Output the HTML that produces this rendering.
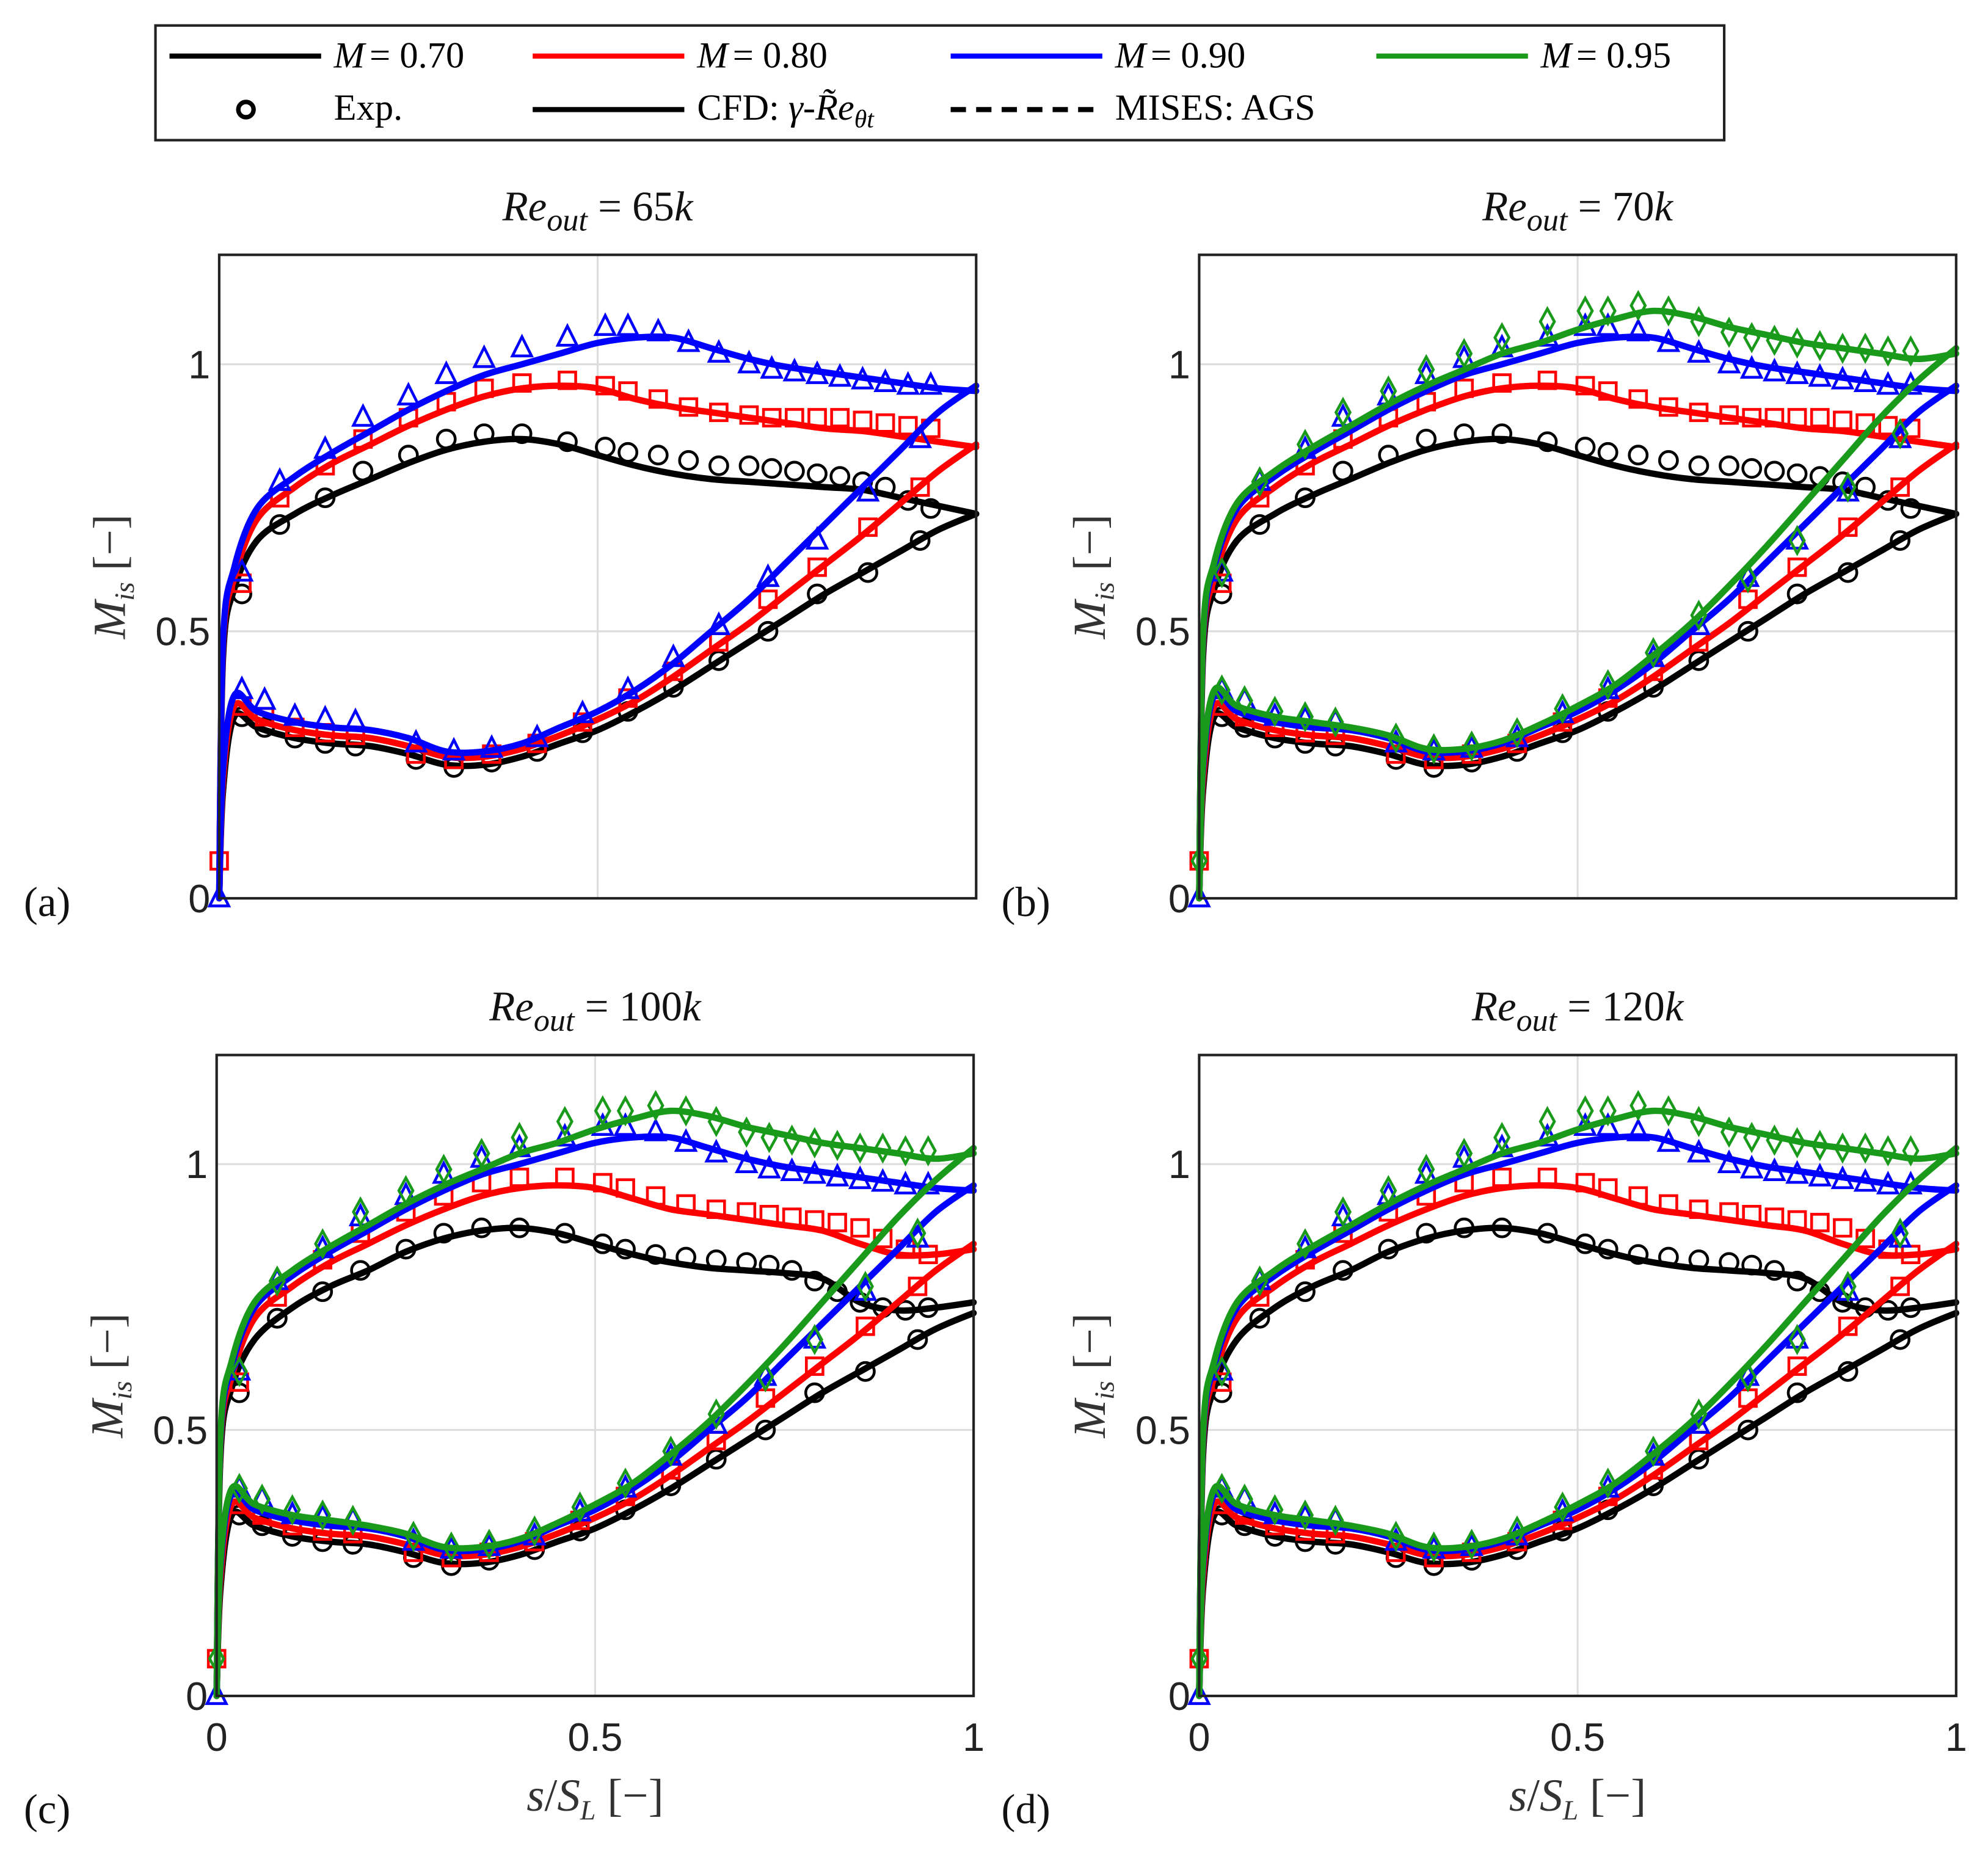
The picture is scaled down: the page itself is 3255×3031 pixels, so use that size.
<!DOCTYPE html>
<html><head><meta charset="utf-8"><style>
html,body{margin:0;padding:0;background:#fff}
svg{display:block}
</style></head><body>
<svg id="fig" width="3255" height="3031" viewBox="0 0 1560 1452.7" preserveAspectRatio="none" xmlns="http://www.w3.org/2000/svg">
<rect x="0" y="0" width="1560" height="1453" fill="#fff"/>
<g font-family="Liberation Serif, serif" font-size="29">
<rect x="122" y="20" width="1231" height="90" fill="#fff" stroke="#222" stroke-width="2"/>
<g><line x1="133" y1="44" x2="252" y2="44" stroke="#000" stroke-width="4"/><text x="262" y="53" font-style="italic">M</text><text x="290" y="53">= 0.70</text></g>
<g><line x1="418" y1="44" x2="537" y2="44" stroke="#f00" stroke-width="4"/><text x="547" y="53" font-style="italic">M</text><text x="575" y="53">= 0.80</text></g>
<g><line x1="746" y1="44" x2="865" y2="44" stroke="#00f" stroke-width="4"/><text x="875" y="53" font-style="italic">M</text><text x="903" y="53">= 0.90</text></g>
<g><line x1="1080" y1="44" x2="1199" y2="44" stroke="#1a9a1a" stroke-width="4"/><text x="1209" y="53" font-style="italic">M</text><text x="1237" y="53">= 0.95</text></g>
<g><circle cx="193" cy="86" r="6" fill="none" stroke="#000" stroke-width="3.5"/><text x="262" y="94">Exp.</text></g>
<g><line x1="418" y1="86" x2="537" y2="86" stroke="#000" stroke-width="4"/><text x="547" y="94">CFD: <tspan font-style="italic">γ-R̃e</tspan><tspan font-style="italic" font-size="20" dy="6">θt</tspan></text></g>
<g><line x1="746" y1="86" x2="865" y2="86" stroke="#000" stroke-width="4" stroke-dasharray="12,8"/><text x="875" y="94">MISES: AGS</text></g>
</g>
</svg>
<script>
// ---- data ----
const xsCFD=[0,0.005,0.02,0.05,0.1,0.15,0.2,0.25,0.3,0.35,0.4,0.45,0.5,0.55,0.6,0.65,0.7,0.75,0.8,0.85,0.9,0.95,1];
const cfdSucBlackLo=[0,0.45,0.58,0.67,0.72,0.755,0.785,0.815,0.84,0.855,0.86,0.85,0.83,0.81,0.795,0.785,0.78,0.775,0.77,0.765,0.75,0.735,0.72];
const cfdSucRedLo=[0,0.47,0.60,0.71,0.77,0.815,0.85,0.885,0.915,0.94,0.955,0.96,0.955,0.935,0.92,0.91,0.90,0.89,0.88,0.875,0.865,0.855,0.845];
const cfdSucBlackHi=[0,0.45,0.58,0.67,0.73,0.77,0.80,0.835,0.86,0.875,0.88,0.87,0.85,0.83,0.815,0.805,0.80,0.795,0.785,0.74,0.725,0.73,0.74];
const cfdSucRedHi=[0,0.47,0.60,0.71,0.77,0.815,0.85,0.885,0.915,0.94,0.955,0.96,0.955,0.935,0.915,0.905,0.895,0.885,0.875,0.85,0.83,0.83,0.84];
const cfdSucBlue=[0,0.48,0.62,0.73,0.79,0.835,0.875,0.915,0.95,0.98,1.0,1.02,1.04,1.05,1.05,1.03,1.01,0.995,0.985,0.975,0.965,0.955,0.95];
const cfdSucGreen=[0,0.49,0.63,0.74,0.80,0.845,0.885,0.925,0.96,0.99,1.02,1.04,1.065,1.085,1.10,1.09,1.07,1.055,1.04,1.03,1.02,1.01,1.02];
const cfdPreBlack=[0,0.2,0.34,0.32,0.30,0.29,0.285,0.27,0.25,0.25,0.265,0.29,0.315,0.35,0.39,0.435,0.48,0.525,0.57,0.61,0.65,0.69,0.72];
const cfdPreRed=[0,0.22,0.36,0.335,0.315,0.305,0.30,0.285,0.265,0.265,0.28,0.305,0.335,0.37,0.415,0.465,0.515,0.57,0.625,0.68,0.74,0.80,0.85];
const cfdPreBlue=[0,0.24,0.38,0.35,0.33,0.32,0.315,0.30,0.275,0.275,0.29,0.32,0.35,0.39,0.44,0.50,0.56,0.63,0.70,0.77,0.84,0.91,0.96];
const cfdPreGreen=[0,0.25,0.39,0.36,0.34,0.33,0.32,0.305,0.28,0.28,0.295,0.325,0.36,0.40,0.455,0.515,0.585,0.66,0.74,0.82,0.90,0.97,1.03];
const xsExpSuc=[0.03,0.08,0.14,0.19,0.25,0.30,0.35,0.40,0.46,0.51,0.54,0.58,0.62,0.66,0.70,0.73,0.76,0.79,0.82,0.85,0.88,0.91,0.94];
const expSucBlackLo=[0.57,0.70,0.75,0.80,0.83,0.86,0.87,0.87,0.855,0.845,0.835,0.83,0.82,0.81,0.81,0.805,0.80,0.795,0.79,0.78,0.77,0.745,0.73];
const expSucRedLo=[0.59,0.75,0.81,0.86,0.90,0.93,0.955,0.965,0.97,0.96,0.95,0.935,0.92,0.91,0.905,0.90,0.90,0.90,0.90,0.895,0.89,0.885,0.88];
const expSucBlackHi=[0.57,0.71,0.76,0.80,0.84,0.87,0.88,0.88,0.87,0.85,0.84,0.83,0.825,0.82,0.815,0.81,0.80,0.78,0.76,0.74,0.73,0.725,0.73];
const expSucRedHi=[0.59,0.75,0.82,0.87,0.91,0.94,0.965,0.975,0.975,0.965,0.955,0.94,0.925,0.915,0.91,0.905,0.90,0.895,0.89,0.88,0.86,0.84,0.83];
const expSucBlue=[0.61,0.78,0.84,0.90,0.94,0.98,1.01,1.03,1.05,1.07,1.07,1.06,1.04,1.02,1.0,0.99,0.985,0.98,0.975,0.97,0.965,0.96,0.96];
const expSucGreen=[0.61,0.78,0.85,0.91,0.95,0.99,1.02,1.05,1.08,1.10,1.10,1.11,1.10,1.08,1.06,1.05,1.045,1.04,1.035,1.03,1.03,1.025,1.025];
const xsExpPre=[0.03,0.06,0.10,0.14,0.18,0.26,0.31,0.36,0.42,0.48,0.54,0.60,0.66,0.725,0.79,0.857,0.926];
const expPreBlack=[0.34,0.32,0.30,0.29,0.285,0.26,0.245,0.255,0.275,0.31,0.35,0.395,0.445,0.50,0.57,0.61,0.67];
const expPreRed=[0.36,0.34,0.32,0.31,0.305,0.27,0.26,0.27,0.29,0.33,0.375,0.425,0.48,0.56,0.62,0.695,0.77];
const expPreBlue=[0.39,0.37,0.34,0.335,0.33,0.29,0.275,0.28,0.30,0.345,0.39,0.45,0.51,0.60,0.67,0.76,0.86];
const expPreGreen=[0.39,0.37,0.35,0.34,0.33,0.30,0.28,0.285,0.31,0.355,0.40,0.46,0.53,0.60,0.67,0.77,0.87];
const expLE=[0.0,0.07,0.0,0.07];
const panelTitles=["65k","70k","100k","120k"];
const panelLetters=["(a)","(b)","(c)","(d)"];
const yTicks=[0,0.5,1];
const xTickLabels=["0","0.5","1"];
const xTicks=[0,0.5,1];

const NS="http://www.w3.org/2000/svg";
const svg=document.getElementById('fig');
function mk(t,a,p){const e=document.createElementNS(NS,t);for(const k in a)e.setAttribute(k,a[k]);(p||svg).appendChild(e);return e;}
function smooth(P){let d='M'+P[0][0].toFixed(1)+','+P[0][1].toFixed(1);
 for(let i=0;i<P.length-1;i++){const p0=P[Math.max(0,i-1)],p1=P[i],p2=P[i+1],p3=P[Math.min(P.length-1,i+2)];
  const c1=[p1[0]+(p2[0]-p0[0])/6,p1[1]+(p2[1]-p0[1])/6],c2=[p2[0]-(p3[0]-p1[0])/6,p2[1]-(p3[1]-p1[1])/6];
  d+='C'+c1.map(v=>v.toFixed(1)).join(',')+' '+c2.map(v=>v.toFixed(1)).join(',')+' '+p2[0].toFixed(1)+','+p2[1].toFixed(1);}
 return d;}
const colors={black:"#000",red:"#f00",blue:"#00f",green:"#1a9a1a"};
const panels=[
 {x0:172,y0:200,x1:766,y1:705,hi:false,green:false},
 {x0:941,y0:200,x1:1535,y1:705,hi:false,green:true},
 {x0:170,y0:828,x1:764,y1:1331,hi:true,green:true},
 {x0:941,y0:828,x1:1535,y1:1331,hi:true,green:true}];
const YMAX=1.205;
panels.forEach((P,i)=>{
 const g=mk('g',{});
 
 
 const X=v=>P.x0+v*(P.x1-P.x0);
 const Y=v=>P.y1-v/YMAX*(P.y1-P.y0);
 xTicks.slice(1,2).forEach(t=>{const l=mk('line',{x1:X(t),x2:X(t),y1:P.y0,y2:P.y1,stroke:"#ddd","stroke-width":1.5},g);});
 yTicks.slice(1).forEach(t=>{const l=mk('line',{x1:P.x0,x2:P.x1,y1:Y(t),y2:Y(t),stroke:"#ddd","stroke-width":1.5},g);});
 yTicks.forEach(t=>{const tx=mk('text',{x:P.x0-7,y:Y(t)+11,"text-anchor":"end","font-family":"Liberation Sans, sans-serif","font-size":31,fill:"#222"},g);tx.textContent=String(t);});
 if(i>=2){xTicks.forEach((t,k)=>{const tx=mk('text',{x:X(t),y:P.y1+43,"text-anchor":"middle","font-family":"Liberation Sans, sans-serif","font-size":31,fill:"#222"},g);tx.textContent=xTickLabels[k];});
  const xl=mk('text',{x:(P.x0+P.x1)/2,y:P.y1+90,"text-anchor":"middle","font-family":"Liberation Serif, serif","font-size":36,fill:"#333"},g);
  xl.innerHTML='<tspan font-style="italic">s</tspan>/<tspan font-style="italic">S</tspan><tspan font-size="22" dy="7" font-style="italic">L</tspan><tspan dy="-7"> [−]</tspan>';
  }
 const cy=(P.y0+P.y1)/2;
 const yl=mk('text',{x:0,y:0,transform:`translate(${P.x0-74},${cy}) rotate(-90)`,"text-anchor":"middle","font-family":"Liberation Serif, serif","font-size":36,fill:"#333"},g);
 yl.innerHTML='<tspan font-style="italic">M</tspan><tspan font-size="22" dy="7" font-style="italic">is</tspan><tspan dy="-7">  [−]</tspan>';
 
 const ti=mk('text',{x:(P.x0+P.x1)/2,y:P.y0-27,"text-anchor":"middle","font-family":"Liberation Serif, serif","font-size":33,fill:"#111"},g);
 ti.innerHTML='<tspan font-style="italic">Re</tspan><tspan font-style="italic" font-size="25" dy="8">out</tspan><tspan dy="-8"> = '+panelTitles[i].slice(0,-1)+'</tspan><tspan font-style="italic">k</tspan>';
 
 const le=mk('text',{x:i%2?805:37,y:P.y1+(i>=2?100:14),"text-anchor":"middle","font-family":"Liberation Serif, serif","font-size":33,fill:"#111"},g);
 le.textContent=panelLetters[i];
 const series=[
  {c:'black',suc:P.hi?cfdSucBlackHi:cfdSucBlackLo,pre:cfdPreBlack,es:P.hi?expSucBlackHi:expSucBlackLo,ep:expPreBlack,m:'circle',le:null},
  {c:'red',suc:P.hi?cfdSucRedHi:cfdSucRedLo,pre:cfdPreRed,es:P.hi?expSucRedHi:expSucRedLo,ep:expPreRed,m:'square',le:expLE[1]},
  {c:'blue',suc:cfdSucBlue,pre:cfdPreBlue,es:expSucBlue,ep:expPreBlue,m:'triangle',le:expLE[2]}];
 if(P.green)series.push({c:'green',suc:cfdSucGreen,pre:cfdPreGreen,es:expSucGreen,ep:expPreGreen,m:'diamond',le:expLE[3]});
 series.forEach(s=>{
  const col=colors[s.c];
  [s.suc,s.pre].forEach((arr,k)=>{
   const pts=arr.map((v,j)=>[X(xsCFD[j]),Y(v)]);
   const p=mk('path',{d:smooth(pts),fill:'none',stroke:col,'stroke-width':5,'stroke-linejoin':'round','stroke-linecap':'round'},g);
   
   
  });
  const pts=[];
  s.es.forEach((v,j)=>pts.push([xsExpSuc[j],v]));
  s.ep.forEach((v,j)=>pts.push([xsExpPre[j],v]));
  if(s.le!==null)pts.push([0,s.le]);
  pts.forEach(([xv,yv])=>{
   const cx=X(xv),cy2=Y(yv);let e;
   const st={fill:'none',stroke:col,'stroke-width':2.2};
   if(s.m==='circle')e=mk('circle',Object.assign({cx:cx,cy:cy2,r:7},st),g);
   else if(s.m==='square')e=mk('rect',Object.assign({x:cx-6.5,y:cy2-6.5,width:13,height:13},st),g);
   else if(s.m==='triangle')e=mk('path',Object.assign({d:`M${cx},${cy2-9}L${cx+7.5},${cy2+6}L${cx-7.5},${cy2+6}Z`},st),g);
   else e=mk('path',Object.assign({d:`M${cx},${cy2-10}L${cx+5.5},${cy2}L${cx},${cy2+10}L${cx-5.5},${cy2}Z`},st),g);
   
   
  });
 });
 const fr=mk('rect',{x:P.x0,y:P.y0,width:P.x1-P.x0,height:P.y1-P.y0,fill:'none',stroke:'#222','stroke-width':2},g);
 
});
</script>
</body></html>
